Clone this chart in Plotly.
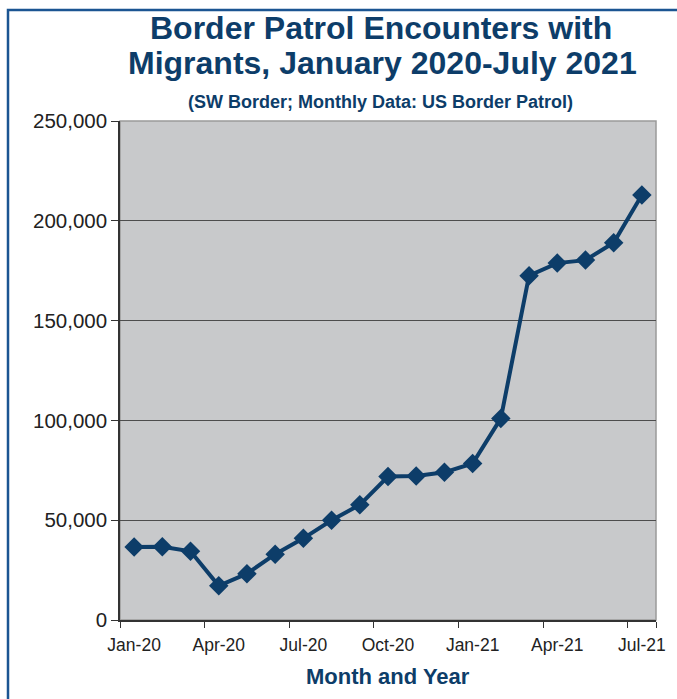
import plotly.graph_objects as go

months = ["Jan-20", "Feb-20", "Mar-20", "Apr-20", "May-20", "Jun-20", "Jul-20",
          "Aug-20", "Sep-20", "Oct-20", "Nov-20", "Dec-20", "Jan-21", "Feb-21",
          "Mar-21", "Apr-21", "May-21", "Jun-21", "Jul-21"]
encounters = [36600, 36700, 34400, 17100, 23200, 33000, 40900, 50000, 57700,
              71900, 72100, 74000, 78400, 101000, 172500, 178800, 180300,
              189000, 212900]
tick_labels = ["Jan-20", "Apr-20", "Jul-20", "Oct-20", "Jan-21", "Apr-21", "Jul-21"]
y_ticks = [0, 50000, 100000, 150000, 200000, 250000]

W, H = 677, 699
L, R, T, B = 120, 21, 121, 79
pw, ph = W - L - R, H - T - B

def px_x(p):
    return (p - L) / pw

def px_y(p):
    return (H - B - p) / ph

navy = "#0d3d69"
font = "Liberation Sans, Arial, sans-serif"

fig = go.Figure()
fig.add_trace(go.Scatter(
    x=months, y=encounters, mode="lines+markers",
    line=dict(color=navy, width=4),
    marker=dict(symbol="diamond", size=15, color=navy),
    showlegend=False, cliponaxis=False,
))

fig.update_layout(
    width=W, height=H,
    margin=dict(l=L, r=R, t=T, b=B, autoexpand=False),
    paper_bgcolor="white",
    plot_bgcolor="#c8c9cb",
    font=dict(family=font, color="#222"),
    xaxis=dict(
        type="category", categoryorder="array", categoryarray=months,
        range=[-0.5, 18.5],
        tickvals=tick_labels, ticktext=tick_labels,
        tickson="boundaries", tickangle=0, automargin=False,
        ticks="outside", ticklen=6, tickcolor="#333", tickwidth=1.3,
        ticklabelstandoff=8,
        showgrid=False, zeroline=False,
        showline=True, linecolor="#333", linewidth=1.5,
        tickfont=dict(size=17.5, color="#222", family=font),
    ),
    yaxis=dict(
        range=[0, 250000], tickvals=y_ticks, tickformat=",",
        automargin=False,
        ticks="outside", ticklen=7, tickcolor="#333", tickwidth=1.3,
        showgrid=True, gridcolor="#4d4d4d", gridwidth=1.3,
        zeroline=False,
        showline=True, linecolor="#333", linewidth=1.5,
        tickfont=dict(size=20.5, color="#222", family=font),
    ),
    shapes=[
        dict(type="rect", xref="paper", yref="paper", x0=0, x1=1, y0=0, y1=1,
             line=dict(color="#9a9a9a", width=1.5), layer="below"),
        dict(type="rect", xref="paper", yref="paper",
             x0=px_x(8), x1=px_x(690), y0=px_y(712), y1=px_y(10),
             line=dict(color="#1b5592", width=2.5)),
    ],
    annotations=[
        dict(text="<b>Border Patrol Encounters with</b>", xref="paper", yref="paper",
             x=px_x(381), y=px_y(27.5), xanchor="center", yanchor="middle",
             showarrow=False, font=dict(size=32, color=navy, family=font)),
        dict(text="<b>Migrants, January 2020-July 2021</b>", xref="paper", yref="paper",
             x=px_x(382), y=px_y(63.5), xanchor="center", yanchor="middle",
             showarrow=False, font=dict(size=32, color=navy, family=font)),
        dict(text="<b>(SW Border; Monthly Data: US Border Patrol)</b>", xref="paper", yref="paper",
             x=px_x(380), y=px_y(102), xanchor="center", yanchor="middle",
             showarrow=False, font=dict(size=18, color=navy, family=font)),
        dict(text="<b>Month and Year</b>", xref="paper", yref="paper",
             x=px_x(388), y=px_y(676), xanchor="center", yanchor="middle",
             showarrow=False, font=dict(size=22, color=navy, family=font)),
    ],
)

fig.write_html("out.html", config={"displayModeBar": False},
               post_script="document.body.style.margin='0';document.body.style.overflow='hidden';")
